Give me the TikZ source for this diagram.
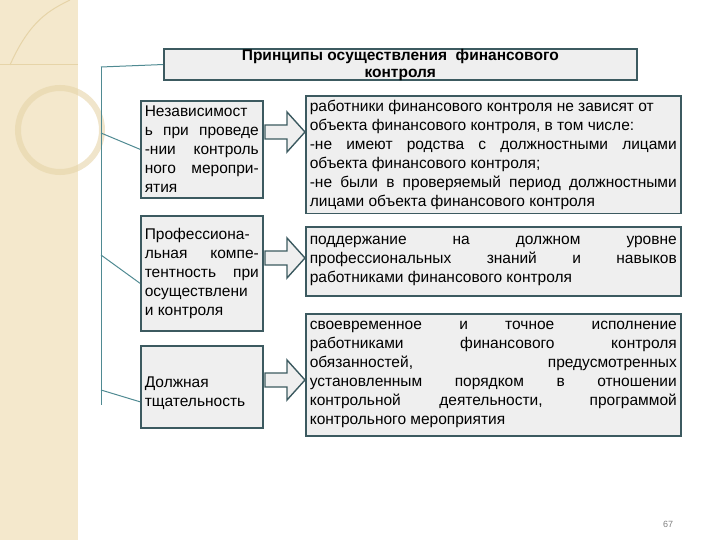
\documentclass[tikz,border=0pt]{standalone}
\usepackage{fontspec}
\setmainfont{Liberation Sans}
\definecolor{edge}{HTML}{3C5A60}
\definecolor{teal}{HTML}{4F8A92}
\definecolor{boxfill}{HTML}{EFEFEF}
\definecolor{beige}{HTML}{F4E8CC}
\definecolor{beige2}{HTML}{E6D4A8}
\tikzset{
 box/.style={draw=edge,line width=1.6pt,fill=boxfill,inner sep=4pt,anchor=north west,font=\fontsize{15.5}{19}\selectfont,align=justify},
 conn/.style={draw=teal,line width=1pt},
 barrow/.style={draw=edge,line width=1.4pt,fill=boxfill,line join=miter}
}
\newcommand\blockarrow[2]{\draw[barrow] (#1,#2-7) -- (#1+22,#2-7) -- (#1+22,#2-20) -- (#1+40,#2) -- (#1+22,#2+20) -- (#1+22,#2+7) -- (#1,#2+7) -- cycle;}
\begin{document}
\begin{tikzpicture}[x=1pt,y=-1pt]
\useasboundingbox (0,0) rectangle (720,540);
% decoration
\fill[beige] (0,0) rectangle (78,540);
\draw[beige2,line width=6pt,opacity=.6] (60,130) circle (42);
\draw[beige2,line width=1pt] (0,65) -- (78,65);
\draw[beige2,line width=1pt] (10,65) .. controls (30,20) and (50,10) .. (70,0);
% title
\node[box,minimum width=473pt,minimum height=30pt,inner sep=0pt,align=center,anchor=north west,font=\bfseries\fontsize{15.5}{17}\selectfont] (t) at (163,48) {Принципы осуществления\ \ финансового\\контроля};
% left boxes
\node[box,text width=114pt,minimum height=97pt] (l1) at (140,100) {Независимост\linebreak ь при проведе\linebreak -нии контроль\-\linebreak ного меропри-\linebreak ятия};
\node[box,text width=114pt,minimum height=115pt] (l2) at (140,215) {Профессиона-\linebreak льная компе-\linebreak тентность при\linebreak осуществлени\linebreak и контроля};
\node[box,text width=114pt,minimum height=82pt,align=left] (l3) at (140,345) {\\[4pt]Должная\\тщательность};
% right boxes
\node[box,text width=367pt,minimum height=117pt] (r1) at (305,95) {работники финансового контроля не зависят от\\ объекта финансового контроля, в том числе:\\ -не имеют родства с должностными лицами\linebreak объекта финансового контроля;\\ -не были в проверяемый период должностными\linebreak лицами объекта финансового контроля};
\node[box,text width=367pt,minimum height=69pt] (r2) at (305,226) {поддержание на должном уровне\linebreak профессиональных знаний и навыков\linebreak работниками финансового контроля};
\node[box,text width=367pt,minimum height=122pt] (r3) at (305,313) {своевременное и точное исполнение\linebreak работниками финансового контроля\linebreak обязанностей, предусмотренных\linebreak установленным порядком в отношении\linebreak контрольной деятельности, программой\linebreak контрольного мероприятия};
% arrows
\blockarrow{265}{132}
\blockarrow{265}{258}
\blockarrow{265}{380}
% connectors
\coordinate (c0) at (101,67);
\coordinate (c1) at (101,133);
\coordinate (c2) at (101,255);
\coordinate (c3) at (101,390);
\coordinate (c4) at (101,405);
\draw[conn] (c0) -- (c4);
\draw[conn] (c0) -- (t.west);
\draw[conn] (c1) -- (l1.west);
\draw[conn] (c2) -- ([yshift=-10pt]l2.west);
\draw[conn] (c3) -- ([yshift=-15pt]l3.west);
\node[text=gray,font=\fontsize{9}{10}\selectfont] (pg) at (668,524) {67};
\end{tikzpicture}
\end{document}
